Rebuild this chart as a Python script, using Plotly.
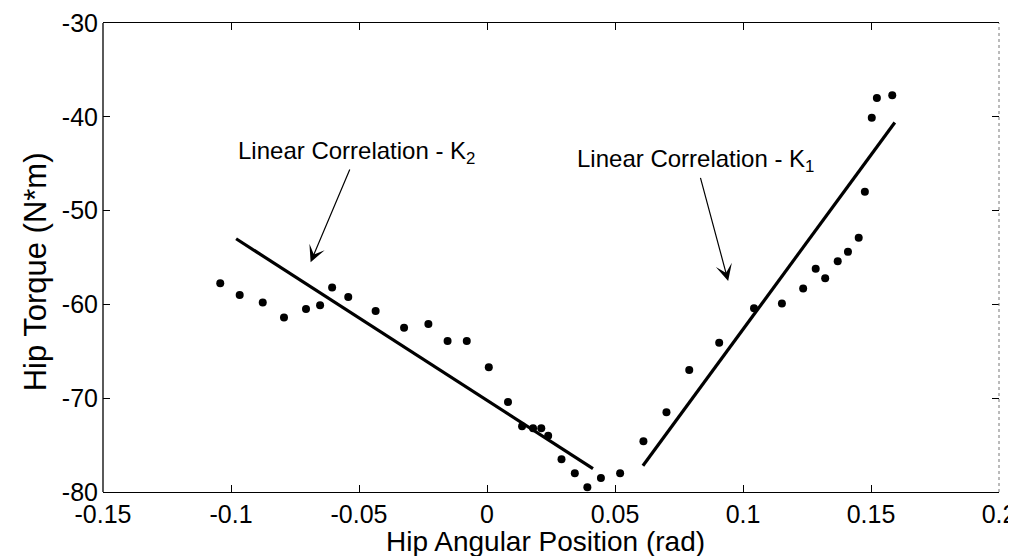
import plotly.graph_objects as go

# Measured data points (Hip angular position [rad], Hip torque [N*m])
angle = [-0.1042, -0.0966, -0.0876, -0.0793, -0.0707, -0.0652, -0.0605, -0.0542,
         -0.0435, -0.0324, -0.0229, -0.0154, -0.0079, 0.0007, 0.0082,
         0.0137, 0.0180, 0.0212, 0.0239, 0.0291, 0.0343, 0.0392, 0.0445, 0.0520,
         0.0611, 0.0701, 0.0790, 0.0907, 0.1043, 0.1152, 0.1235, 0.1284, 0.1321,
         0.1370, 0.1410, 0.1452, 0.1476, 0.1503, 0.1523, 0.1583]
torque = [-57.75, -59.0, -59.8, -61.4, -60.5, -60.1, -58.2, -59.2,
          -60.7, -62.5, -62.1, -63.9, -63.9, -66.7, -70.4,
          -73.0, -73.2, -73.2, -74.0, -76.5, -78.0, -79.5, -78.5, -78.0,
          -74.6, -71.5, -67.0, -64.1, -60.4, -59.9, -58.3, -56.2, -57.2,
          -55.4, -54.4, -52.9, -48.0, -40.1, -38.0, -37.7]

# Linear fits (end points)
k2_x = [-0.098, 0.0414]
k2_y = [-53.0, -77.5]
k1_x = [0.0609, 0.1593]
k1_y = [-77.2, -40.6]

# Axis ticks
x_ticks = [-0.15, -0.1, -0.05, 0, 0.05, 0.1, 0.15, 0.2]
x_ticktext = ["-0.15", "-0.1", "-0.05", "0", "0.05", "0.1", "0.15", "0.2"]
y_ticks = [-80, -70, -60, -50, -40, -30]
y_ticktext = ["-80", "-70", "-60", "-50", "-40", "-30"]

FONT = "Liberation Sans, Arial, Helvetica, sans-serif"

fig = go.Figure()
fig.add_trace(go.Scatter(x=angle, y=torque, mode="markers",
                         marker=dict(color="black", size=8), showlegend=False))
fig.add_trace(go.Scatter(x=k2_x, y=k2_y, mode="lines",
                         line=dict(color="black", width=3.2), showlegend=False))
fig.add_trace(go.Scatter(x=k1_x, y=k1_y, mode="lines",
                         line=dict(color="black", width=3.2), showlegend=False))

annotations = [
    # labels with arrows: text centred at (ax, ay), arrow head at (x, y)
    dict(x=-0.0689, y=-55.5, ax=-0.0508, ay=-43.8, xref="x", yref="y", axref="x", ayref="y",
         text="Linear Correlation - K<sub>2</sub>", showarrow=True,
         arrowhead=3, arrowsize=2.3, arrowwidth=1.2, arrowcolor="black",
         font=dict(family=FONT, size=24, color="black")),
    dict(x=0.0942, y=-57.5, ax=0.0816, ay=-44.7, xref="x", yref="y", axref="x", ayref="y",
         text="Linear Correlation - K<sub>1</sub>", showarrow=True,
         arrowhead=3, arrowsize=2.3, arrowwidth=1.2, arrowcolor="black",
         font=dict(family=FONT, size=24, color="black")),
    # axis titles
    dict(x=0.494, y=-0.105, xref="paper", yref="paper", text="Hip Angular Position (rad)",
         showarrow=False, xanchor="center", yanchor="middle",
         font=dict(family=FONT, size=28, color="black")),
    dict(x=-0.075, y=0.47, xref="paper", yref="paper", text="Hip Torque (N*m)",
         showarrow=False, xanchor="center", yanchor="middle", textangle=-90,
         font=dict(family=FONT, size=31, color="black")),
]

shapes = [
    dict(type="line", xref="paper", yref="paper", x0=0, x1=0, y0=0, y1=1,
         line=dict(color="black", width=1.3)),
    dict(type="line", xref="paper", yref="paper", x0=1, x1=1, y0=0, y1=1,
         line=dict(color="#777777", width=1, dash="dot")),
]

fig.update_layout(
    width=1016, height=556,
    margin=dict(l=95, r=25, t=15, b=72),
    paper_bgcolor="white", plot_bgcolor="white",
    font=dict(family=FONT, size=25, color="black"),
    annotations=annotations, shapes=shapes,
    xaxis=dict(range=[-0.15, 0.2], tickvals=x_ticks, ticktext=x_ticktext,
               ticks="inside", ticklen=7, tickwidth=1, tickcolor="black",
               showline=True, linecolor="black", linewidth=1.3, mirror="ticks",
               showgrid=False, zeroline=False, automargin=False,
               ticklabelstandoff=0),
    yaxis=dict(range=[-80, -30], tickvals=y_ticks, ticktext=y_ticktext,
               ticks="inside", ticklen=7, tickwidth=1, tickcolor="black",
               showline=False, mirror="ticks",
               showgrid=False, zeroline=False, automargin=False,
               ticklabelstandoff=4),
)

fig.write_html("out.html")
